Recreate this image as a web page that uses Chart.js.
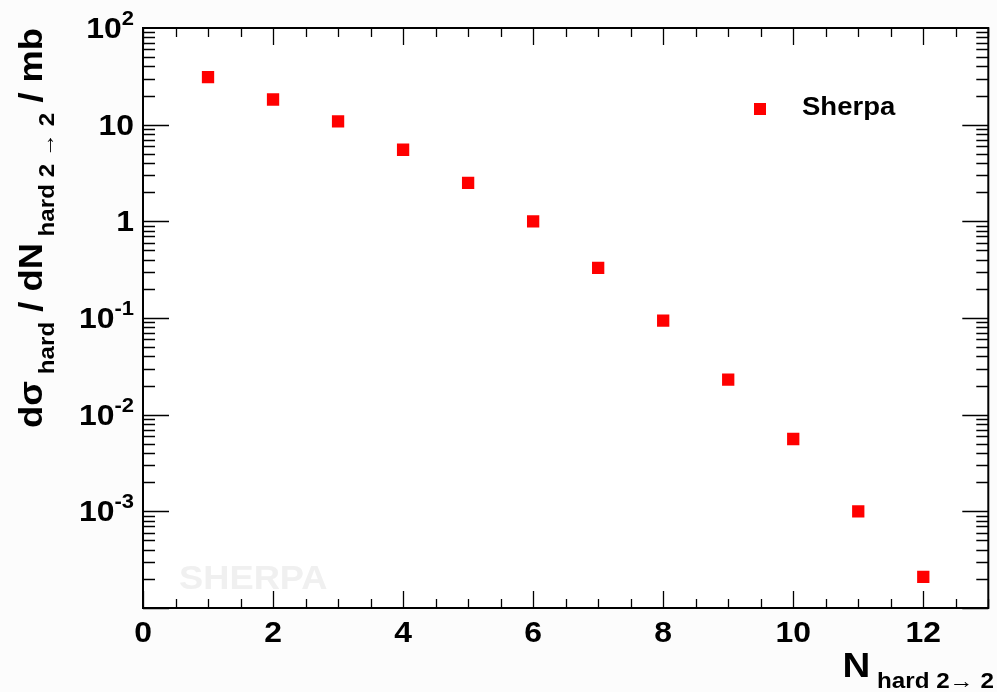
<!DOCTYPE html>
<html>
<head>
<meta charset="utf-8">
<script src="https://cdn.jsdelivr.net/npm/chart.js@4"></script>
<style>
  html, body { margin: 0; padding: 0; background: #fcfcfc; }
  #wrap { width: 997px; height: 692px; }
</style>
</head>
<body>
<div id="wrap"><canvas id="myChart" width="997" height="692"></canvas></div>
<script>
// data
const nHard = [1, 2, 3, 4, 5, 6, 7, 8, 9, 10, 11, 12];
const sigmaHard = [31.1, 18.2, 10.8, 5.5, 2.5, 1.0, 0.33, 0.094, 0.023, 0.0056, 0.0010, 0.00021];
const seriesName = 'Sherpa';

// axes
const xTicks = [0, 2, 4, 6, 8, 10, 12];
const yTicks = [100, 10, 1, 0.1, 0.01, 0.001];
const yTickText = [['10', '2'], ['10', ''], ['1', ''], ['10', '-1'], ['10', '-2'], ['10', '-3']];

const FONT = '"Liberation Sans", Arial, sans-serif';
const SX = 1.1; // ROOT helvetica looks a bit wider

function setFont(ctx, size) {
    ctx.font = 'bold ' + size + 'px ' + FONT;
}

function partsWidth(ctx, parts) {
    let w = 0;
    parts.forEach(p => { setFont(ctx, p.size); w += ctx.measureText(p.t).width * SX; });
    return w;
}

// draws text pieces left to right from (x, y), dy shifts baseline
function drawParts(ctx, parts, x, y) {
    let cx = x;
    parts.forEach(p => {
        setFont(ctx, p.size);
        ctx.save();
        ctx.translate(cx, y + (p.dy || 0));
        ctx.scale(SX, 1);
        ctx.textAlign = 'left';
        ctx.textBaseline = 'alphabetic';
        ctx.fillText(p.t, 0, 0);
        ctx.restore();
        cx += ctx.measureText(p.t).width * SX;
    });
}

const rootStyle = {
    id: 'rootStyle',
    beforeDraw(chart) {
        const ctx = chart.ctx;
        const a = chart.chartArea;
        ctx.save();
        ctx.fillStyle = '#fcfcfc';
        ctx.fillRect(0, 0, chart.width, chart.height);
        ctx.fillStyle = '#ffffff';
        ctx.fillRect(a.left, a.top, a.right - a.left, a.bottom - a.top);
        // watermark
        ctx.fillStyle = '#f0f0f0';
        drawParts(ctx, [{ t: 'SHERPA', size: 33 }], 179, 589);
        ctx.restore();
    },
    afterDraw(chart) {
        const ctx = chart.ctx;
        const a = chart.chartArea;
        const xs = chart.scales.x;
        const ys = chart.scales.y;
        ctx.save();
        ctx.strokeStyle = '#000';
        ctx.fillStyle = '#000';

        // ticks
        ctx.lineWidth = 1.3;
        ctx.beginPath();
        for (let v = 0; v <= 13; v += 0.5) {
            const px = Math.round(xs.getPixelForValue(v)) + 0.5;
            const len = (v % 2 === 0) ? 17 : 9;
            ctx.moveTo(px, a.bottom); ctx.lineTo(px, a.bottom - len);
            ctx.moveTo(px, a.top); ctx.lineTo(px, a.top + len);
        }
        for (let e = -4; e < 2; e++) {
            for (let m = 1; m <= 9; m++) {
                const val = m * Math.pow(10, e);
                const py = Math.round(ys.getPixelForValue(val)) + 0.5;
                const len = (m === 1) ? 26 : 12;
                ctx.moveTo(a.left, py); ctx.lineTo(a.left + len, py);
                ctx.moveTo(a.right, py); ctx.lineTo(a.right - len, py);
            }
        }
        ctx.stroke();

        // frame
        ctx.lineWidth = 2;
        ctx.strokeRect(a.left, a.top, a.right - a.left, a.bottom - a.top);

        // x tick labels
        xTicks.forEach(v => {
            const parts = [{ t: String(v), size: 29 }];
            const w = partsWidth(ctx, parts);
            drawParts(ctx, parts, xs.getPixelForValue(v) - w / 2, 642);
        });

        // y tick labels
        yTicks.forEach((v, i) => {
            const parts = [{ t: yTickText[i][0], size: 29 }, { t: yTickText[i][1], size: 20, dy: -13 }];
            const w = partsWidth(ctx, parts);
            drawParts(ctx, parts, 134 - w, ys.getPixelForValue(v) + 10);
        });

        // x title
        const xt = [{ t: 'N', size: 35 }, { t: ' hard 2\u2192 2', size: 22, dy: 11 }];
        drawParts(ctx, xt, 994 - partsWidth(ctx, xt), 677);

        // y title (rotated)
        const yt = [
            { t: 'd\u03C3', size: 33 },
            { t: ' hard', size: 22, dy: 12 },
            { t: ' / dN', size: 33 },
            { t: ' hard 2 \u2192 2', size: 22, dy: 12 },
            { t: ' / mb', size: 33 }
        ];
        ctx.save();
        ctx.translate(42, 28);
        ctx.rotate(-Math.PI / 2);
        drawParts(ctx, yt, -partsWidth(ctx, yt), 0);
        ctx.restore();

        // legend
        ctx.fillStyle = '#ff0000';
        ctx.fillRect(754, 103, 12, 12);
        ctx.fillStyle = '#000';
        drawParts(ctx, [{ t: seriesName, size: 25 }], 802, 115);
        ctx.restore();
    }
};

const ctx = document.getElementById('myChart');
new Chart(ctx, {
    type: 'scatter',
    data: {
        datasets: [{
            label: seriesName,
            data: nHard.map((n, i) => ({ x: n, y: sigmaHard[i] })),
            pointStyle: 'rect',
            pointRadius: 8.7,
            pointBorderWidth: 0,
            backgroundColor: '#ff0000',
            borderColor: '#ff0000'
        }]
    },
    options: {
        responsive: false,
        animation: false,
        layout: { padding: { left: 143, top: 28, right: 4, bottom: 84 } },
        scales: {
            x: { type: 'linear', min: 0, max: 13, display: false },
            y: { type: 'logarithmic', min: 1e-4, max: 100, display: false }
        },
        plugins: {
            legend: { display: false },
            tooltip: { enabled: false }
        }
    },
    plugins: [rootStyle]
});
</script>
</body>
</html>
